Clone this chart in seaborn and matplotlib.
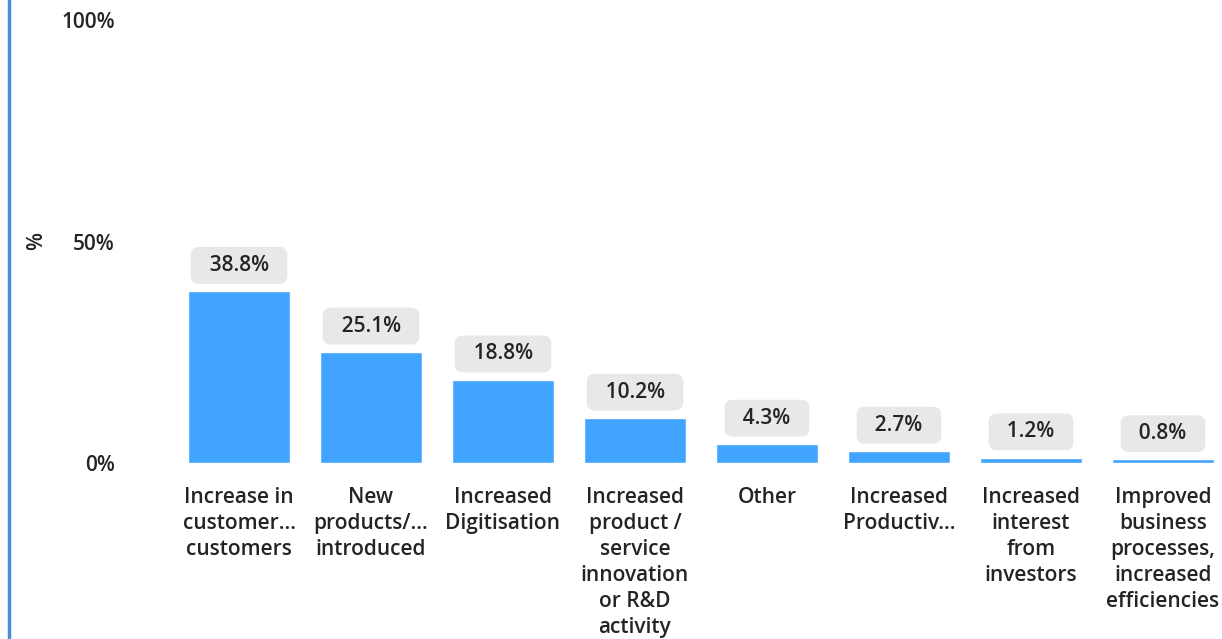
import matplotlib
matplotlib.use("Agg")
import matplotlib.pyplot as plt
import seaborn as sns
import pandas as pd
from matplotlib.lines import Line2D

# Reported benefits (share of respondents, %)
categories = [
    "Increase in\ncustomer...\ncustomers",
    "New\nproducts/...\nintroduced",
    "Increased\nDigitisation",
    "Increased\nproduct /\nservice\ninnovation\nor R&D\nactivity",
    "Other",
    "Increased\nProductiv...",
    "Increased\ninterest\nfrom\ninvestors",
    "Improved\nbusiness\nprocesses,\nincreased\nefficiencies",
]
values = [38.8, 25.1, 18.8, 10.2, 4.3, 2.7, 1.2, 0.8]
y_ticks = [0, 50, 100]
y_tick_labels = ["0%", "50%", "100%"]

sns.set_style("white")
plt.rcParams["font.family"] = ["Open Sans", "DejaVu Sans"]

text_color = "#252423"
bar_color = "#41A4FF"
fs = 15

W, H = 1222, 639
fig = plt.figure(figsize=(W / 100, H / 100), dpi=100)

# axes geometry in pixels
ax_left_px, ax_right_px = 130, W
ax_bottom_px, ax_top_px = 463, 20
ax = fig.add_axes([ax_left_px / W, (H - ax_bottom_px) / H,
                   (ax_right_px - ax_left_px) / W, (ax_bottom_px - ax_top_px) / H])

df = pd.DataFrame({"category": categories, "value": values})
sns.barplot(data=df, x="category", y="value", color=bar_color, saturation=1,
            width=0.773, ax=ax)

# category slot spacing: first center at 239 px, step 132 px
first_c, step = 239, 132
ax.set_xlim((ax_left_px - first_c) / step, (ax_right_px - first_c) / step)
ax.set_ylim(0, 100)
ax.set_yticks(y_ticks)
ax.set_yticklabels(y_tick_labels)

for s in ax.spines.values():
    s.set_visible(False)
ax.tick_params(axis="both", length=0, colors=text_color)
ax.tick_params(axis="y", pad=11, labelsize=fs)
ax.tick_params(axis="x", pad=17.5, labelsize=fs)
for lbl in ax.get_xticklabels():
    lbl.set_fontweight("semibold")
    lbl.set_linespacing(1.31)
    lbl.set_verticalalignment("top")
    lbl.set_horizontalalignment("center")
for lbl in ax.get_yticklabels():
    lbl.set_fontweight("semibold")

ax.set_xlabel("")
ax.set_ylabel("%", fontsize=fs, color=text_color, fontweight="semibold", labelpad=10)

# value labels in rounded grey boxes
ax.bar_label(ax.containers[0], labels=[f"  {v}%  " for v in values], padding=11,
             fontsize=fs, color=text_color, fontweight="semibold",
             bbox=dict(boxstyle="round,pad=0.38,rounding_size=0.4",
                       fc="#E8E8E8", ec="none"))

# vertical accent line at the left edge
fig.add_artist(Line2D([8.5 / W, 8.5 / W], [0, 1], transform=fig.transFigure,
                      color="#4A8ED6", linewidth=2.5))

fig.savefig("out.png", dpi=100)
